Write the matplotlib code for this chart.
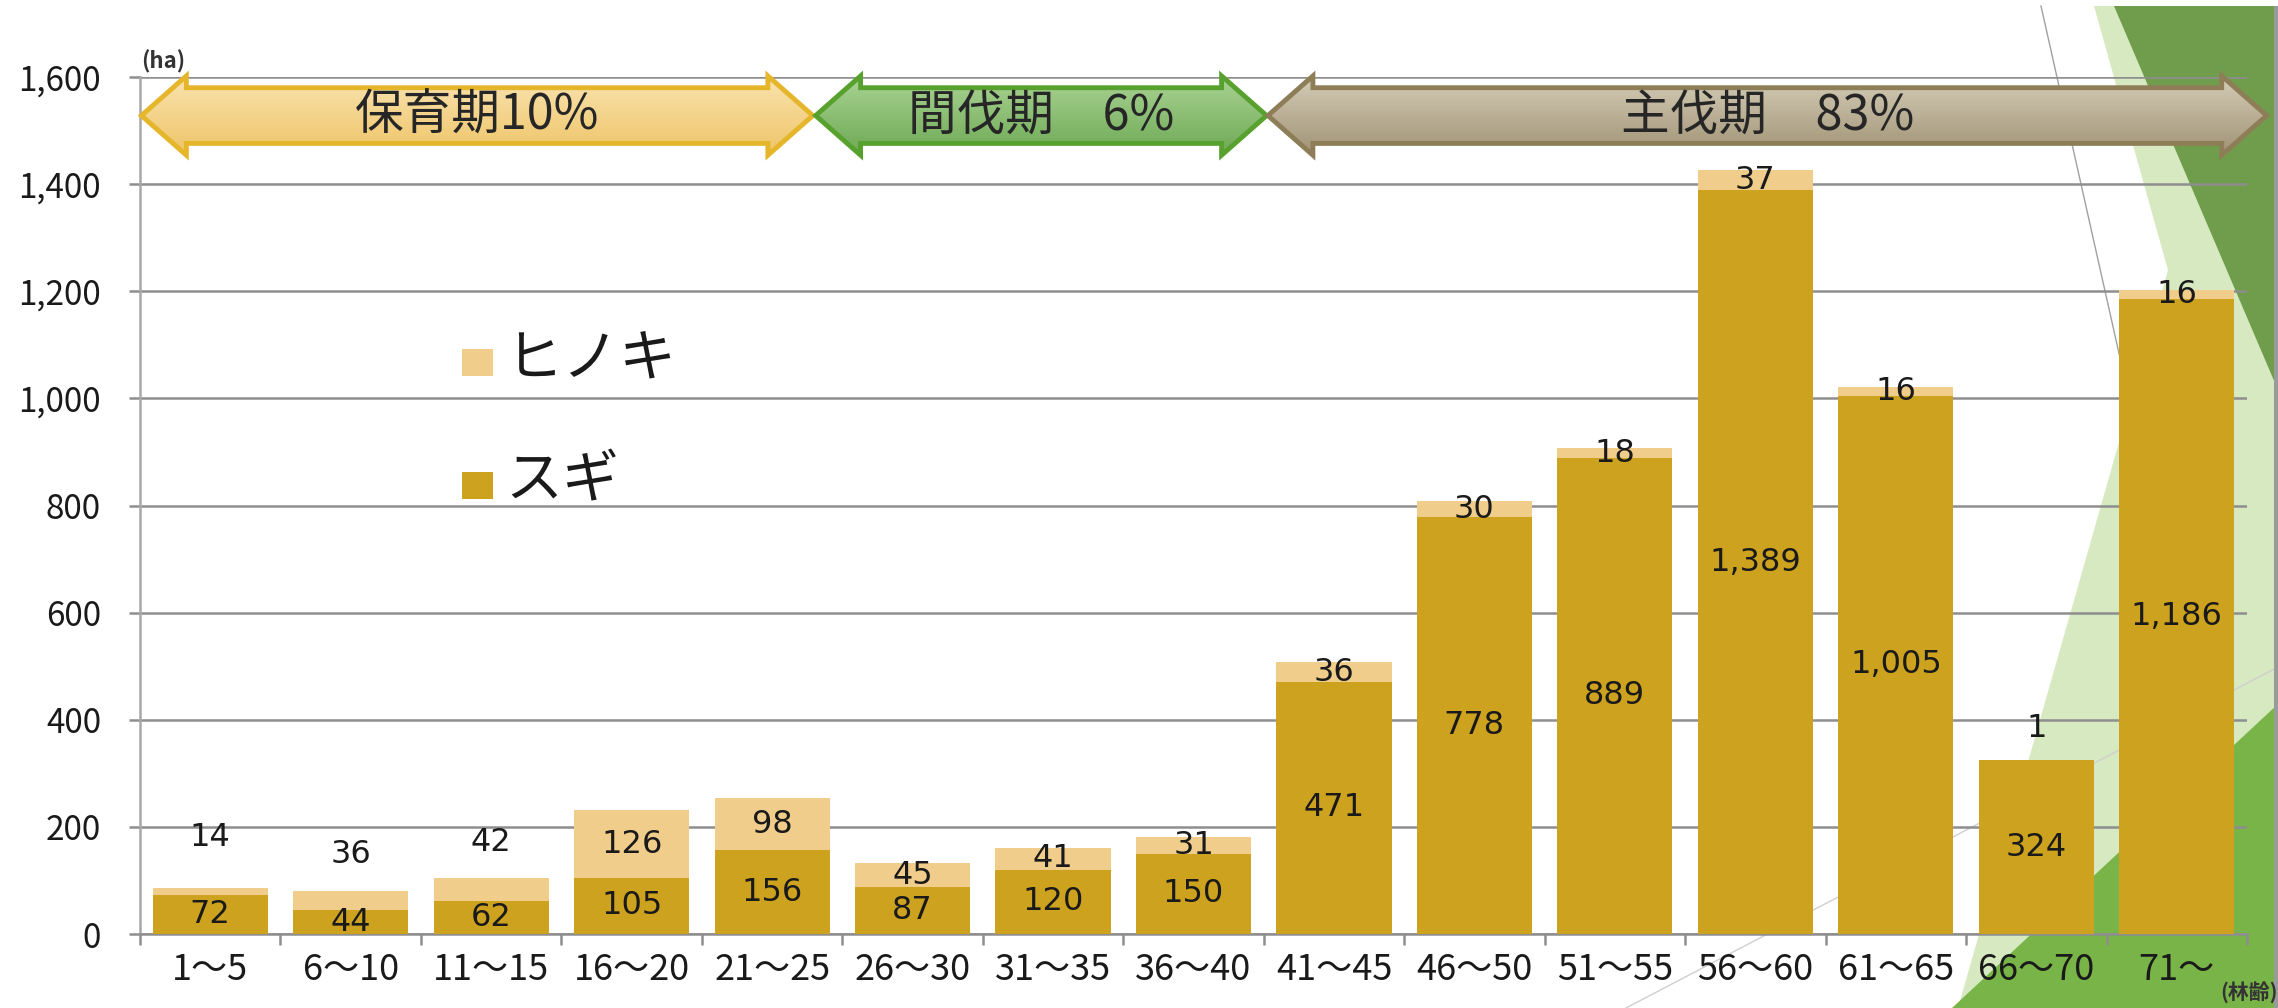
import numpy as np
import matplotlib
matplotlib.use("Agg")
import matplotlib.pyplot as plt
from matplotlib.patches import Polygon, Rectangle
from matplotlib.lines import Line2D
from matplotlib.colors import LinearSegmentedColormap

plt.rcParams['font.family'] = ['Noto Sans CJK JP', 'DejaVu Sans']

# ---------------- data ----------------
categories = ["1～5", "6～10", "11～15", "16～20", "21～25", "26～30", "31～35",
              "36～40", "41～45", "46～50", "51～55", "56～60", "61～65", "66～70", "71～"]
sugi = [72, 44, 62, 105, 156, 87, 120, 150, 471, 778, 889, 1389, 1005, 324, 1186]
hinoki = [14, 36, 42, 126, 98, 45, 41, 31, 36, 30, 18, 37, 16, 1, 16]
y_ticks = [0, 200, 400, 600, 800, 1000, 1200, 1400, 1600]
series_names = ["ヒノキ", "スギ"]
period_labels = ["保育期10%", "間伐期　6%", "主伐期　83%"]
unit_label = "(ha)"
xaxis_note = "(林齢)"

# ---------------- style ----------------
SUGI = '#CDA21E'
HINOKI = '#F0CD8B'
GRID = '#8E8E8E'
TXT = '#1A1A1A'
W, H = 2278, 1008

fig = plt.figure(figsize=(W / 100, H / 100), dpi=100)
fig.patch.set_facecolor('white')


def fpoly(pts, color, z=-5):
    p = Polygon([(px / W, 1 - py / H) for px, py in pts], closed=True,
                transform=fig.transFigure, facecolor=color, edgecolor='none', zorder=z)
    fig.add_artist(p)


def fline(p0, p1, color, lw=1.0, z=-4):
    l = Line2D([p0[0] / W, p1[0] / W], [1 - p0[1] / H, 1 - p1[1] / H],
               transform=fig.transFigure, color=color, lw=lw, zorder=z)
    fig.add_artist(l)


# decorative slide background (right side)
fpoly([(2094, 6), (2278, 6), (2278, 1008), (1958, 1008), (2168, 270)], '#D6E9C1')
fpoly([(2114, 6), (2278, 6), (2278, 390)], '#6F9D4B')
fpoly([(1952, 1008), (2278, 1008), (2278, 704)], '#78B447')
fline((2041, 6), (2125, 380), '#A0A0A0', 1.0)
fline((1626, 1008), (2278, 667), '#CFCFCF', 1.0)
fpoly([(2274, 6), (2278, 6), (2278, 1008), (2274, 1008)], '#9A9A9A', z=-3)

# ---------------- axes ----------------
ax = fig.add_axes([140 / W, 1 - 934 / H, (2247 - 140) / W, (934 - 77) / H])
ax.set_facecolor('none')

x = np.arange(len(categories))
bw = 0.82
ax.bar(x, sugi, width=bw, color=SUGI, zorder=3)
ax.bar(x, hinoki, bottom=sugi, width=bw, color=HINOKI, zorder=3)

ax.set_xlim(-0.5, len(categories) - 0.5)
ax.set_ylim(0, 1600)
ax.set_yticks(y_ticks)
ax.set_yticklabels([f"{v:,}" for v in y_ticks])
ax.yaxis.grid(True, color=GRID, lw=1.8)
ax.set_axisbelow(True)

for s in ['top', 'right']:
    ax.spines[s].set_visible(False)
ax.spines['left'].set_color('#A8A8A8')
ax.spines['left'].set_linewidth(1.8)
ax.spines['bottom'].set_color(GRID)
ax.spines['bottom'].set_linewidth(1.8)

ax.tick_params(axis='y', length=8, width=1.8, color=GRID, pad=20,
               labelsize=24, labelcolor=TXT)
ax.set_xticks(x)
ax.set_xticklabels(categories)
ax.set_xticks(np.arange(-0.5, len(categories), 1), minor=True)
ax.tick_params(axis='x', which='major', length=0, pad=13, labelsize=26, labelcolor=TXT)
ax.tick_params(axis='x', which='minor', length=8, width=1.8, color=GRID)

# data labels
label_above = {0: 94, 1: 69, 2: 67, 13: 58}
for i in range(len(categories)):
    ax.text(x[i], sugi[i] / 2, f"{sugi[i]:,}", ha='center', va='center',
            fontsize=23, family='DejaVu Sans', color=TXT, zorder=5)
    if i in label_above:
        yl = sugi[i] + hinoki[i] + label_above[i]
    else:
        yl = sugi[i] + hinoki[i] / 2
    ax.text(x[i], yl, f"{hinoki[i]:,}", ha='center', va='center',
            fontsize=23, family='DejaVu Sans', color=TXT, zorder=5)

# legend (manual)
leg_items = [(series_names[0], HINOKI, 0.667, 0.671), (series_names[1], SUGI, 0.523, 0.528)]
for name, col, ys, yt in leg_items:
    ax.add_patch(Rectangle((0.153, ys - 0.0158), 0.0147, 0.0316, transform=ax.transAxes,
                           facecolor=col, edgecolor='none', zorder=5))
    ax.text(0.1735, yt, name, transform=ax.transAxes, ha='left', va='center',
            fontsize=41, color=TXT, zorder=5)


# period arrows
def draw_arrow(x0, x1, label, top, bot, edge, yc=1528, hs=52, hh=74, L=0.32):
    pts = [(x0, yc), (x0 + L, yc + hh), (x0 + L, yc + hs), (x1 - L, yc + hs),
           (x1 - L, yc + hh), (x1, yc), (x1 - L, yc - hh), (x1 - L, yc - hs),
           (x0 + L, yc - hs), (x0 + L, yc - hh)]
    poly = Polygon(pts, closed=True, facecolor='none', edgecolor=edge, lw=3.5,
                   joinstyle='miter', clip_on=False, zorder=7)
    ax.add_patch(poly)
    cmap = LinearSegmentedColormap.from_list('g', [top, bot])
    grad = np.linspace(0, 1, 256).reshape(-1, 1)
    im = ax.imshow(grad, extent=[x0, x1, yc - hh, yc + hh], origin='upper',
                   aspect='auto', cmap=cmap, zorder=6, interpolation='bilinear')
    im.set_clip_path(poly)
    im.set_clip_box(fig.bbox)
    ax.text((x0 + x1) / 2, yc, label, ha='center', va='center', fontsize=35,
            color='#262626', zorder=8, clip_on=False)


draw_arrow(-0.49, 4.29, period_labels[0], '#FAE4B2', '#EEC466', '#E5B52A')
draw_arrow(4.31, 7.52, period_labels[1], '#AAD494', '#6EA955', '#58A12E')
draw_arrow(7.53, 14.64, period_labels[2], '#D6CEB9', '#A09274', '#8E7E57')

ax.set_xlim(-0.5, len(categories) - 0.5)
ax.set_ylim(0, 1600)

fig.text(141 / W, 1 - 62 / H, unit_label, fontsize=16, fontweight='bold',
         color='#333333', ha='left', va='center')
fig.text(2220 / W, 1 - 992 / H, xaxis_note, fontsize=15, fontweight='bold',
         color='#333333', ha='left', va='center')

fig.savefig('out.png', dpi=100, facecolor='white')
